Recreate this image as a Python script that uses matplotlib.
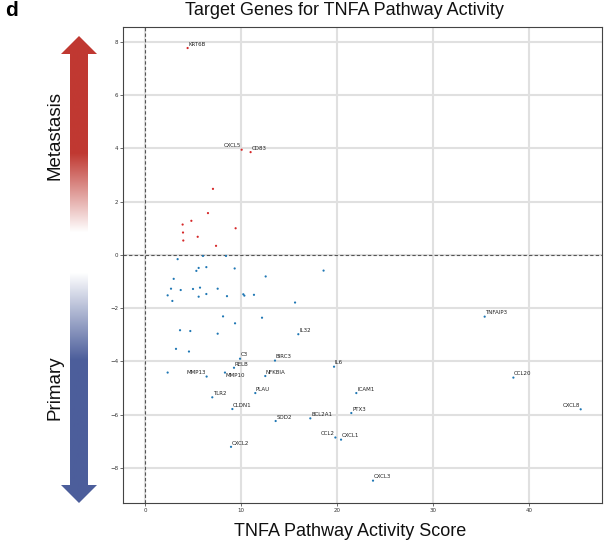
import numpy as np
import matplotlib
matplotlib.use("Agg")
import matplotlib.pyplot as plt
from matplotlib.patches import Polygon

# labelled target genes: name, TNFA pathway activity score, log fold change
genes = ["KRT6B", "CXCL5", "CD83", "IL32", "C3", "RELB", "BIRC3", "MMP13",
         "MMP10", "NFKBIA", "PLAU", "TLR2", "CLDN1", "SOD2", "BCL2A1", "CCL2",
         "CXCL1", "CXCL2", "IL6", "TNFAIP3", "CCL20", "CXCL8", "ICAM1", "PTX3",
         "CXCL3"]
gene_x = [4.44, 10.07, 11.0, 15.97, 9.9, 9.27, 13.54, 6.42,
          8.33, 12.53, 11.49, 7.01, 9.1, 13.61, 17.22, 19.83,
          20.42, 8.96, 19.69, 35.38, 38.37, 45.38, 22.01, 21.49,
          23.75]
gene_y = [7.77, 3.95, 3.86, -2.98, -3.9, -4.24, -3.97, -4.57,
          -4.42, -4.55, -5.19, -5.35, -5.79, -6.24, -6.14, -6.86,
          -6.94, -7.21, -4.2, -2.32, -4.61, -5.8, -5.19, -5.94,
          -8.48]

# unlabelled genes
other_x = [7.08, 6.56, 4.83, 3.92, 3.96, 3.99, 5.49, 9.44, 7.4,
           3.40, 6.04, 8.44, 5.59, 6.39, 5.35, 9.34, 12.57, 18.6, 2.99,
           2.71, 3.72, 5.0, 5.73, 7.57, 2.36, 2.85, 5.59, 6.39, 8.54,
           10.24, 10.35, 11.35, 15.63, 8.13, 9.38, 12.19, 3.65, 4.72,
           7.57, 3.23, 4.58, 2.36]
other_y = [2.48, 1.57, 1.28, 1.14, 0.84, 0.54, 0.68, 1.0, 0.34,
           -0.16, -0.04, -0.04, -0.49, -0.46, -0.6, -0.51, -0.81, -0.59, -0.90,
           -1.27, -1.32, -1.28, -1.23, -1.27, -1.52, -1.73, -1.57, -1.47, -1.55,
           -1.48, -1.53, -1.50, -1.79, -2.31, -2.57, -2.36, -2.83, -2.86,
           -2.96, -3.53, -3.63, -4.42]

label_left = ["CXCL5", "MMP13", "CCL2", "CXCL8"]
label_below = ["MMP10"]

RED = "#d62728"
BLUE = "#1f77b4"
W, H = 613, 542

fig = plt.figure(figsize=(W / 100, H / 100), dpi=100)
ax = fig.add_axes([123 / W, 1 - 503 / H, 479 / W, 476 / H])

xs = np.array(gene_x + other_x)
ys = np.array(gene_y + other_y)
cols = np.where(ys > 0, RED, BLUE)
ax.scatter(xs, ys, s=2.5, c=cols, linewidths=0, zorder=3)

for name, x, y in zip(genes, gene_x, gene_y):
    if name in label_left:
        ax.annotate(name, (x, y), xytext=(-0.5, 2.9), textcoords="offset points",
                    ha="right", va="center", fontsize=4, color="#222222", zorder=4)
    elif name in label_below:
        ax.annotate(name, (x, y), xytext=(0.5, -2.4), textcoords="offset points",
                    ha="left", va="center", fontsize=4, color="#222222", zorder=4)
    else:
        ax.annotate(name, (x, y), xytext=(0.5, 2.7), textcoords="offset points",
                    ha="left", va="center", fontsize=4, color="#222222", zorder=4)

ax.axhline(0, color="#555555", lw=0.8, ls=(0, (3, 2)), zorder=2)
ax.axvline(0, color="#555555", lw=0.8, ls=(0, (3, 2)), zorder=2)

ax.set_xlim(-2.29, 47.6)
ax.set_ylim(-9.32, 8.56)
ax.set_xticks([0, 10, 20, 30, 40])
ax.set_yticks(np.arange(-8, 9, 2))
ax.grid(True, color="#e0e0e0", lw=1.5, zorder=0)
ax.set_axisbelow(True)
ax.tick_params(labelsize=4, length=2, width=0.5, colors="#333333", pad=1.5)
for sp in ax.spines.values():
    sp.set_color("#444444")
    sp.set_linewidth(0.8)

# gradient arrows on the left
deco = fig.add_axes([0, 0, 1, 1], zorder=-1)
deco.set_xlim(0, W)
deco.set_ylim(H, 0)
deco.axis("off")

red_rgb = np.array([192, 57, 50]) / 255
blue_rgb = np.array([76, 94, 155]) / 255
white = np.ones(3)
py = np.linspace(30, 510, 481)
t_red = np.clip((232 - py) / (232 - 153), 0, 1)[:, None]
t_blue = np.clip((py - 273) / (360 - 273), 0, 1)[:, None]
img_red = (white + (red_rgb - white) * t_red)[:, None, :]
img_blue = (white + (blue_rgb - white) * t_blue)[:, None, :]

red_poly = Polygon([(79, 36), (97, 54), (88, 54), (88, 240), (70, 240), (70, 54), (61, 54)],
                   closed=True, fc="none", ec="none", transform=deco.transData)
blue_poly = Polygon([(70, 265), (88, 265), (88, 485), (97, 485), (79, 503), (61, 485), (70, 485)],
                    closed=True, fc="none", ec="none", transform=deco.transData)
deco.add_patch(red_poly)
deco.add_patch(blue_poly)
im1 = deco.imshow(img_red, extent=(55, 105, 510, 30), aspect="auto", interpolation="bilinear")
im1.set_clip_path(red_poly)
im2 = deco.imshow(img_blue, extent=(55, 105, 510, 30), aspect="auto", interpolation="bilinear")
im2.set_clip_path(blue_poly)
deco.set_xlim(0, W)
deco.set_ylim(H, 0)

big = dict(family=["Liberation Sans", "DejaVu Sans"], color="#111111")
fig.text(55 / W, 1 - 135 / H, "Metastasis", rotation=90, ha="center", va="center", fontsize=13.5, **big)
fig.text(55 / W, 1 - 388 / H, "Primary", rotation=90, ha="center", va="center", fontsize=13.5, **big)
fig.text(344 / W, 1 - 15 / H, "Target Genes for TNFA Pathway Activity", ha="center", va="baseline",
         fontsize=13, **big)
fig.text(350 / W, 1 - 535.5 / H, "TNFA Pathway Activity Score", ha="center", va="baseline",
         fontsize=13, **big)
fig.text(5 / W, 1 - 16 / H, "d", ha="left", va="baseline", fontsize=15, fontweight="bold",
         family=["Liberation Sans", "DejaVu Sans"])

fig.savefig("out.png", dpi=100)
